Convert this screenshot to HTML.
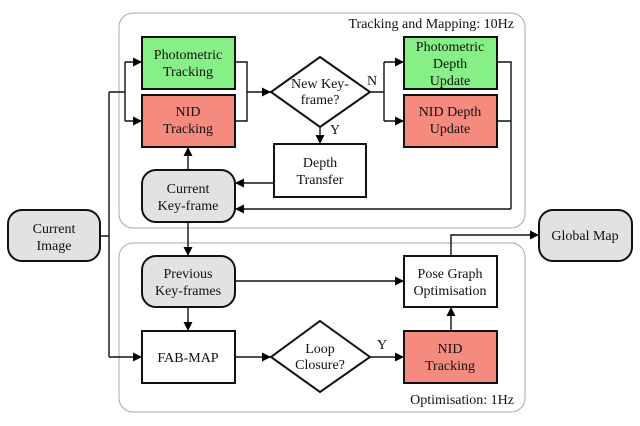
<!DOCTYPE html>
<html><head><meta charset="utf-8"><style>
html,body{margin:0;padding:0;background:#fff;width:640px;height:426px;overflow:hidden}
text{font-family:"Liberation Serif",serif;font-size:14px;fill:#111;text-anchor:middle}
</style></head><body>
<svg width="640" height="426" viewBox="0 0 640 426" xmlns="http://www.w3.org/2000/svg">
<defs><marker id="a" markerWidth="10" markerHeight="10" refX="9" refY="4.5" orient="auto" markerUnits="userSpaceOnUse"><path d="M0,0 L9,4.5 L0,9 z" fill="#000"/></marker></defs>
<rect x="119" y="13" width="406" height="215" rx="14" fill="none" stroke="#aaa" stroke-width="1"/>
<rect x="119" y="243" width="406" height="169" rx="14" fill="none" stroke="#aaa" stroke-width="1"/>
<text x="514" y="28" style="text-anchor:end">Tracking and Mapping: 10Hz</text>
<text x="514" y="404" style="text-anchor:end">Optimisation: 1Hz</text>
<g stroke="#111" stroke-width="2">
<rect x="142" y="37" width="93" height="52" fill="#86f086"/>
<rect x="142" y="95" width="93" height="52" fill="#f58a7e"/>
<rect x="404" y="37" width="93" height="52" fill="#86f086"/>
<rect x="404" y="95" width="93" height="52" fill="#f58a7e"/>
<rect x="274" y="144" width="92" height="53" fill="#fff"/>
<rect x="142" y="170" width="93" height="52" rx="14" fill="#e2e2e2"/>
<rect x="8" y="210" width="92" height="51" rx="14" fill="#e2e2e2"/>
<rect x="539" y="210" width="93" height="51" rx="14" fill="#e2e2e2"/>
<rect x="142" y="256" width="93" height="51" rx="14" fill="#e2e2e2"/>
<rect x="404" y="256" width="93" height="51" fill="#fff"/>
<rect x="142" y="331" width="93" height="52" fill="#fff"/>
<rect x="404" y="331" width="93" height="52" fill="#f58a7e"/>
<polygon points="320,57 370,92 320,127 271,92" fill="#fff"/>
<polygon points="320,321 370,357 320,392 271,357" fill="#fff"/>
</g>
<g stroke="#111" stroke-width="1.4" fill="none">
<path d="M100,236 H109 M109,92 V357"/>
<path d="M109,92 H125 M125,62 V121"/>
<path d="M125,62 H142" marker-end="url(#a)"/>
<path d="M125,121 H142" marker-end="url(#a)"/>
<path d="M109,357 H142" marker-end="url(#a)"/>
<path d="M235,62 H247 V121 H235"/>
<path d="M247,92 H271" marker-end="url(#a)"/>
<path d="M370,92 H384 M384,62 V121"/>
<path d="M384,62 H404" marker-end="url(#a)"/>
<path d="M384,121 H404" marker-end="url(#a)"/>
<path d="M497,62 H511 V209 M497,121 H511"/>
<path d="M511,209 H235" marker-end="url(#a)"/>
<path d="M320,127 V144" marker-end="url(#a)"/>
<path d="M274,183 H235" marker-end="url(#a)"/>
<path d="M188,170 V147" marker-end="url(#a)"/>
<path d="M188,222 V256" marker-end="url(#a)"/>
<path d="M188,307 V331" marker-end="url(#a)"/>
<path d="M235,281 H404" marker-end="url(#a)"/>
<path d="M235,357 H271" marker-end="url(#a)"/>
<path d="M370,357 H404" marker-end="url(#a)"/>
<path d="M451,331 V307" marker-end="url(#a)"/>
<path d="M451,256 V235 H539" marker-end="url(#a)"/>
</g>
<text x="188" y="59">Photometric</text><text x="188" y="76">Tracking</text>
<text x="188" y="116">NID</text><text x="188" y="133">Tracking</text>
<text x="450" y="51">Photometric</text><text x="450" y="68">Depth</text><text x="450" y="85">Update</text>
<text x="450" y="116">NID Depth</text><text x="450" y="133">Update</text>
<text x="320" y="88">New Key-</text><text x="320" y="104">frame?</text>
<text x="372" y="85">N</text><text x="335" y="134">Y</text>
<text x="320" y="167">Depth</text><text x="320" y="184">Transfer</text>
<text x="188" y="193">Current</text><text x="188" y="210">Key-frame</text>
<text x="54" y="233">Current</text><text x="54" y="250">Image</text>
<text x="585" y="240">Global Map</text>
<text x="188" y="278">Previous</text><text x="188" y="295">Key-frames</text>
<text x="450" y="278">Pose Graph</text><text x="450" y="295">Optimisation</text>
<text x="188" y="362">FAB-MAP</text>
<text x="320" y="353">Loop</text><text x="320" y="369">Closure?</text>
<text x="382" y="349">Y</text>
<text x="450" y="353">NID</text><text x="450" y="370">Tracking</text>
</svg>
</body></html>
